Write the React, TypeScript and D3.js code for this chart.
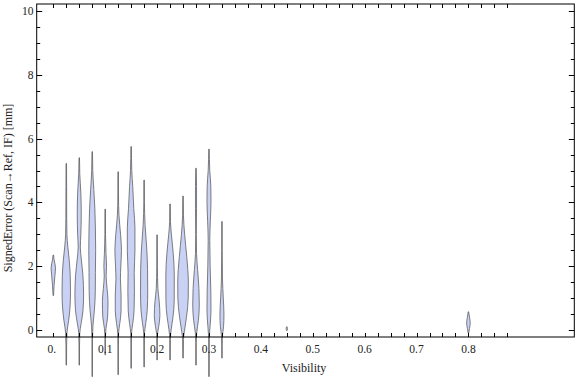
import React, { useEffect, useRef } from 'react';
import * as d3 from 'd3';

// violin positions (visibility) and density profiles: [signed error, relative density]
const positions: number[] = [
  0, 0.025, 0.05, 0.075, 0.1, 0.125, 0.15, 0.175, 0.2, 0.225, 0.25, 0.275, 0.3, 0.325, 0.45, 0.8,
];

const profiles: [number, number][][] = [
  [[2.35, 0], [2.2, 0.15], [1.95, 0.42], [1.7, 0.3], [1.4, 0.15], [1.08, 0]],
  [[5.22, 0], [4.5, 0.06], [3.5, 0.08], [3.0, 0.12], [2.6, 0.3], [2.2, 0.55], [1.7, 0.75], [1.2, 0.8], [0.7, 0.7], [0.3, 0.45], [-0.1, 0.12], [-0.5, 0.06], [-1.1, 0]],
  [[5.4, 0], [4.9, 0.1], [4.3, 0.3], [3.6, 0.38], [3.0, 0.3], [2.6, 0.2], [2.2, 0.4], [1.7, 0.7], [1.1, 0.82], [0.6, 0.7], [0.2, 0.35], [-0.1, 0.1], [-0.5, 0.05], [-1.1, 0]],
  [[5.59, 0], [5.0, 0.1], [4.4, 0.3], [3.8, 0.5], [3.2, 0.6], [2.5, 0.65], [1.8, 0.6], [1.2, 0.58], [0.6, 0.4], [0.1, 0.12], [-0.3, 0.05], [-1.46, 0]],
  [[3.79, 0], [3.0, 0.06], [2.4, 0.15], [2.0, 0.25], [1.7, 0.18], [1.3, 0.35], [0.9, 0.53], [0.4, 0.45], [0.05, 0.15], [-0.3, 0.05], [-0.78, 0]],
  [[4.96, 0], [4.2, 0.06], [3.6, 0.15], [3.0, 0.45], [2.5, 0.62], [2.0, 0.5], [1.6, 0.42], [1.1, 0.55], [0.6, 0.55], [0.2, 0.3], [-0.1, 0.08], [-0.5, 0.05], [-1.4, 0]],
  [[5.75, 0], [5.0, 0.12], [4.5, 0.3], [3.8, 0.5], [3.2, 0.72], [2.5, 0.72], [1.8, 0.58], [1.2, 0.62], [0.6, 0.55], [0.2, 0.3], [-0.1, 0.08], [-0.5, 0.05], [-1.2, 0]],
  [[4.7, 0], [4.0, 0.06], [3.3, 0.18], [2.6, 0.48], [1.9, 0.65], [1.2, 0.68], [0.65, 0.6], [0.2, 0.3], [-0.1, 0.08], [-0.5, 0.05], [-1.16, 0]],
  [[2.98, 0], [2.0, 0.06], [1.3, 0.15], [0.9, 0.4], [0.45, 0.53], [0.1, 0.3], [-0.15, 0.08], [-0.5, 0.04], [-0.94, 0]],
  [[3.95, 0], [3.4, 0.08], [3.0, 0.25], [2.4, 0.6], [1.7, 0.8], [0.9, 0.78], [0.4, 0.55], [0.0, 0.2], [-0.3, 0.06], [-0.94, 0]],
  [[4.2, 0], [3.6, 0.08], [3.0, 0.3], [2.3, 0.7], [1.5, 1.0], [1.0, 0.98], [0.4, 0.65], [-0.05, 0.25], [-0.3, 0.08], [-0.88, 0]],
  [[5.07, 0], [4.5, 0.1], [3.8, 0.1], [3.0, 0.06], [2.4, 0.1], [1.9, 0.3], [1.3, 0.55], [0.78, 0.62], [0.3, 0.45], [-0.1, 0.12], [-0.4, 0.05], [-1.1, 0]],
  [[5.67, 0], [5.0, 0.15], [4.5, 0.35], [4.0, 0.38], [3.4, 0.25], [2.8, 0.15], [2.0, 0.22], [1.2, 0.35], [0.6, 0.38], [0.1, 0.2], [-0.3, 0.06], [-1.46, 0]],
  [[3.4, 0], [2.5, 0.05], [1.6, 0.1], [1.0, 0.25], [0.5, 0.38], [0.1, 0.3], [-0.2, 0.08], [-0.5, 0.04], [-0.88, 0]],
  [[0.1, 0], [0.04, 0.12], [-0.02, 0]],
  [[0.57, 0], [0.4, 0.2], [0.22, 0.34], [0.05, 0.2], [-0.1, 0]],
];

const xTickLabels: string[] = ['0.', '0.1', '0.2', '0.3', '0.4', '0.5', '0.6', '0.7', '0.8'];
const yTickLabels: string[] = ['0', '2', '4', '6', '8', '10'];

const W = 576;
const H = 377;
const FONT = '"Liberation Serif", "DejaVu Serif", serif';

const App: React.FC = () => {
  const svgRef = useRef<SVGSVGElement>(null);

  useEffect(() => {
    if (!svgRef.current) return;
    const svg = d3.select(svgRef.current);
    svg.selectAll('*').remove();

    const frame = { left: 36.7, right: 574.3, top: 4, bottom: 337 };

    const x = d3.scaleLinear().domain([-0.032, 1.004]).range([frame.left, frame.right]);
    const y = d3.scaleLinear().domain([-0.22, 10.22]).range([frame.bottom, frame.top]);
    const w = d3.scaleLinear().domain([0, 1]).range([0, 5.3]);

    // violins
    const area = d3
      .area<[number, number]>()
      .y((d) => y(d[0]))
      .curve(d3.curveMonotoneY);

    const g = svg.append('g');
    positions.forEach((p, i) => {
      const cx = x(p);
      area.x0((d) => cx - Math.max(w(d[1]), 0.25)).x1((d) => cx + Math.max(w(d[1]), 0.25));
      g.append('path')
        .attr('d', area(profiles[i])!)
        .attr('fill', '#c9d1f4')
        .attr('stroke', '#5a5a5a')
        .attr('stroke-opacity', 0.85)
        .attr('stroke-width', 0.9);
    });

    // frame
    svg
      .append('rect')
      .attr('x', frame.left)
      .attr('y', frame.top)
      .attr('width', frame.right - frame.left)
      .attr('height', frame.bottom - frame.top)
      .attr('fill', 'none')
      .attr('stroke', '#000')
      .attr('stroke-width', 1);

    const ticks = svg.append('g').attr('stroke', '#000').attr('stroke-width', 1);

    // x ticks (bottom and top), every 0.025
    const xTicks = d3.range(0, 36).map((k) => k * 0.025);
    xTicks.forEach((t) => {
      const px = Math.round(x(t)) + 0.5;
      ticks.append('line').attr('x1', px).attr('x2', px).attr('y1', frame.bottom).attr('y2', frame.bottom - 4);
      ticks.append('line').attr('x1', px).attr('x2', px).attr('y1', frame.top).attr('y2', frame.top + 4);
    });

    // y ticks (left and right), every 0.5
    const yTicks = d3.range(0, 21).map((k) => k * 0.5);
    yTicks.forEach((t) => {
      const py = Math.round(y(t)) + 0.5;
      const len = t % 2 === 0 ? 5.5 : 3.5;
      ticks.append('line').attr('x1', frame.left).attr('x2', frame.left + len).attr('y1', py).attr('y2', py);
      ticks.append('line').attr('x1', frame.right).attr('x2', frame.right - len).attr('y1', py).attr('y2', py);
    });

    const labels = svg.append('g').attr('font-family', FONT).attr('font-size', 11.5).attr('fill', '#222');

    xTickLabels.forEach((s, k) => {
      labels
        .append('text')
        .attr('x', x(k * 0.1) + (k === 0 ? -1.5 : 0))
        .attr('y', 353)
        .attr('text-anchor', 'middle')
        .text(s);
    });

    yTickLabels.forEach((s, k) => {
      labels
        .append('text')
        .attr('x', 33.5)
        .attr('y', y(k * 2) + 4)
        .attr('text-anchor', 'end')
        .text(s);
    });

    labels
      .append('text')
      .attr('x', 304)
      .attr('y', 372)
      .attr('text-anchor', 'middle')
      .attr('font-size', 12)
      .text('Visibility');

    labels
      .append('text')
      .attr('transform', `translate(12, 188) rotate(-90)`)
      .attr('text-anchor', 'middle')
      .attr('font-size', 12)
      .text('SignedError (Scan\u2192Ref, IF) [mm]');
  }, []);

  return (
    <svg
      ref={svgRef}
      width={W}
      height={H}
      style={{ position: 'absolute', left: 0, top: 0, background: '#fff' }}
    ></svg>
  );
};

export default App;
